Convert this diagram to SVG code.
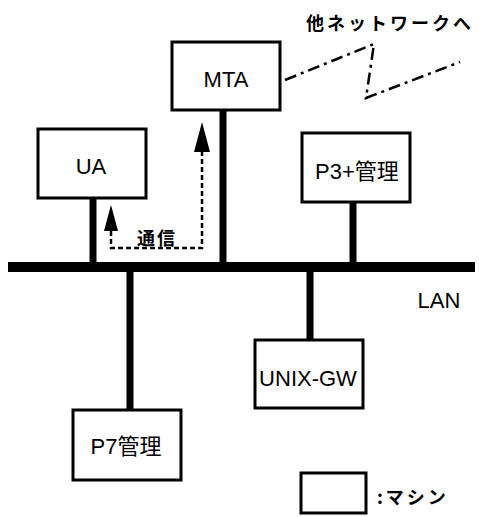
<svg xmlns="http://www.w3.org/2000/svg" width="479" height="517" viewBox="0 0 479 517">
<style>
.box{fill:#fff;stroke:#000;stroke-width:3}
.lbl{font-family:"Liberation Sans","Noto Sans CJK JP",sans-serif;font-size:22px;fill:#000;text-anchor:middle;dominant-baseline:central}
.jp{font-family:"Noto Sans CJK JP",sans-serif;font-weight:bold;font-size:18px;fill:#000;dominant-baseline:central}
.wire{stroke:#000;stroke-width:7;fill:none}
.dash{stroke:#000;stroke-width:2.5;fill:none;stroke-dasharray:5 3}
.dashdot{stroke:#000;stroke-width:2.5;fill:none;stroke-dasharray:12 5 3 5}
</style>
<g id="connectors">
<rect id="lan" x="8" y="262" width="467" height="10" fill="#000"/>
<line class="wire" x1="93" y1="198" x2="93" y2="267"/>
<line class="wire" x1="223" y1="110" x2="223" y2="267"/>
<line class="wire" x1="353" y1="202" x2="353" y2="267"/>
<line class="wire" x1="130" y1="267" x2="130" y2="410"/>
<line class="wire" x1="310" y1="267" x2="310" y2="340"/>
<path class="dash" d="M111,231 L111,248 L202,248 L202,150"/>
<path d="M111,205 L104,231 L118,231 Z" fill="#000"/>
<path d="M202,122 L194,152 L210,152 Z" fill="#000"/>
<polyline class="dashdot" points="285,80 374,44 366,98 460,62"/>
</g>
<g id="MTA"><rect class="box" x="172" y="42" width="108" height="68"/><text class="lbl" x="226" y="79">MTA</text></g>
<g id="UA"><rect class="box" x="38" y="129" width="108" height="69"/><text class="lbl" x="91" y="166">UA</text></g>
<g id="P3"><rect class="box" x="302" y="133" width="108" height="69"/><text class="lbl" x="357" y="171">P3+管理</text></g>
<g id="UNIXGW"><rect class="box" x="255" y="340" width="108" height="68"/><text class="lbl" x="308" y="378">UNIX-GW</text></g>
<g id="P7"><rect class="box" x="73" y="410" width="108" height="70"/><text class="lbl" x="126" y="446">P7管理</text></g>
<g id="legend"><rect class="box" x="301" y="473" width="65" height="40"/><text class="jp" x="377" y="496" letter-spacing="3">:マシン</text></g>
<text class="jp" x="306" y="22" letter-spacing="3">他ネットワークへ</text>
<text class="jp" x="137" y="237" letter-spacing="2">通信</text>
<text class="lbl" x="439" y="300">LAN</text>
</svg>
